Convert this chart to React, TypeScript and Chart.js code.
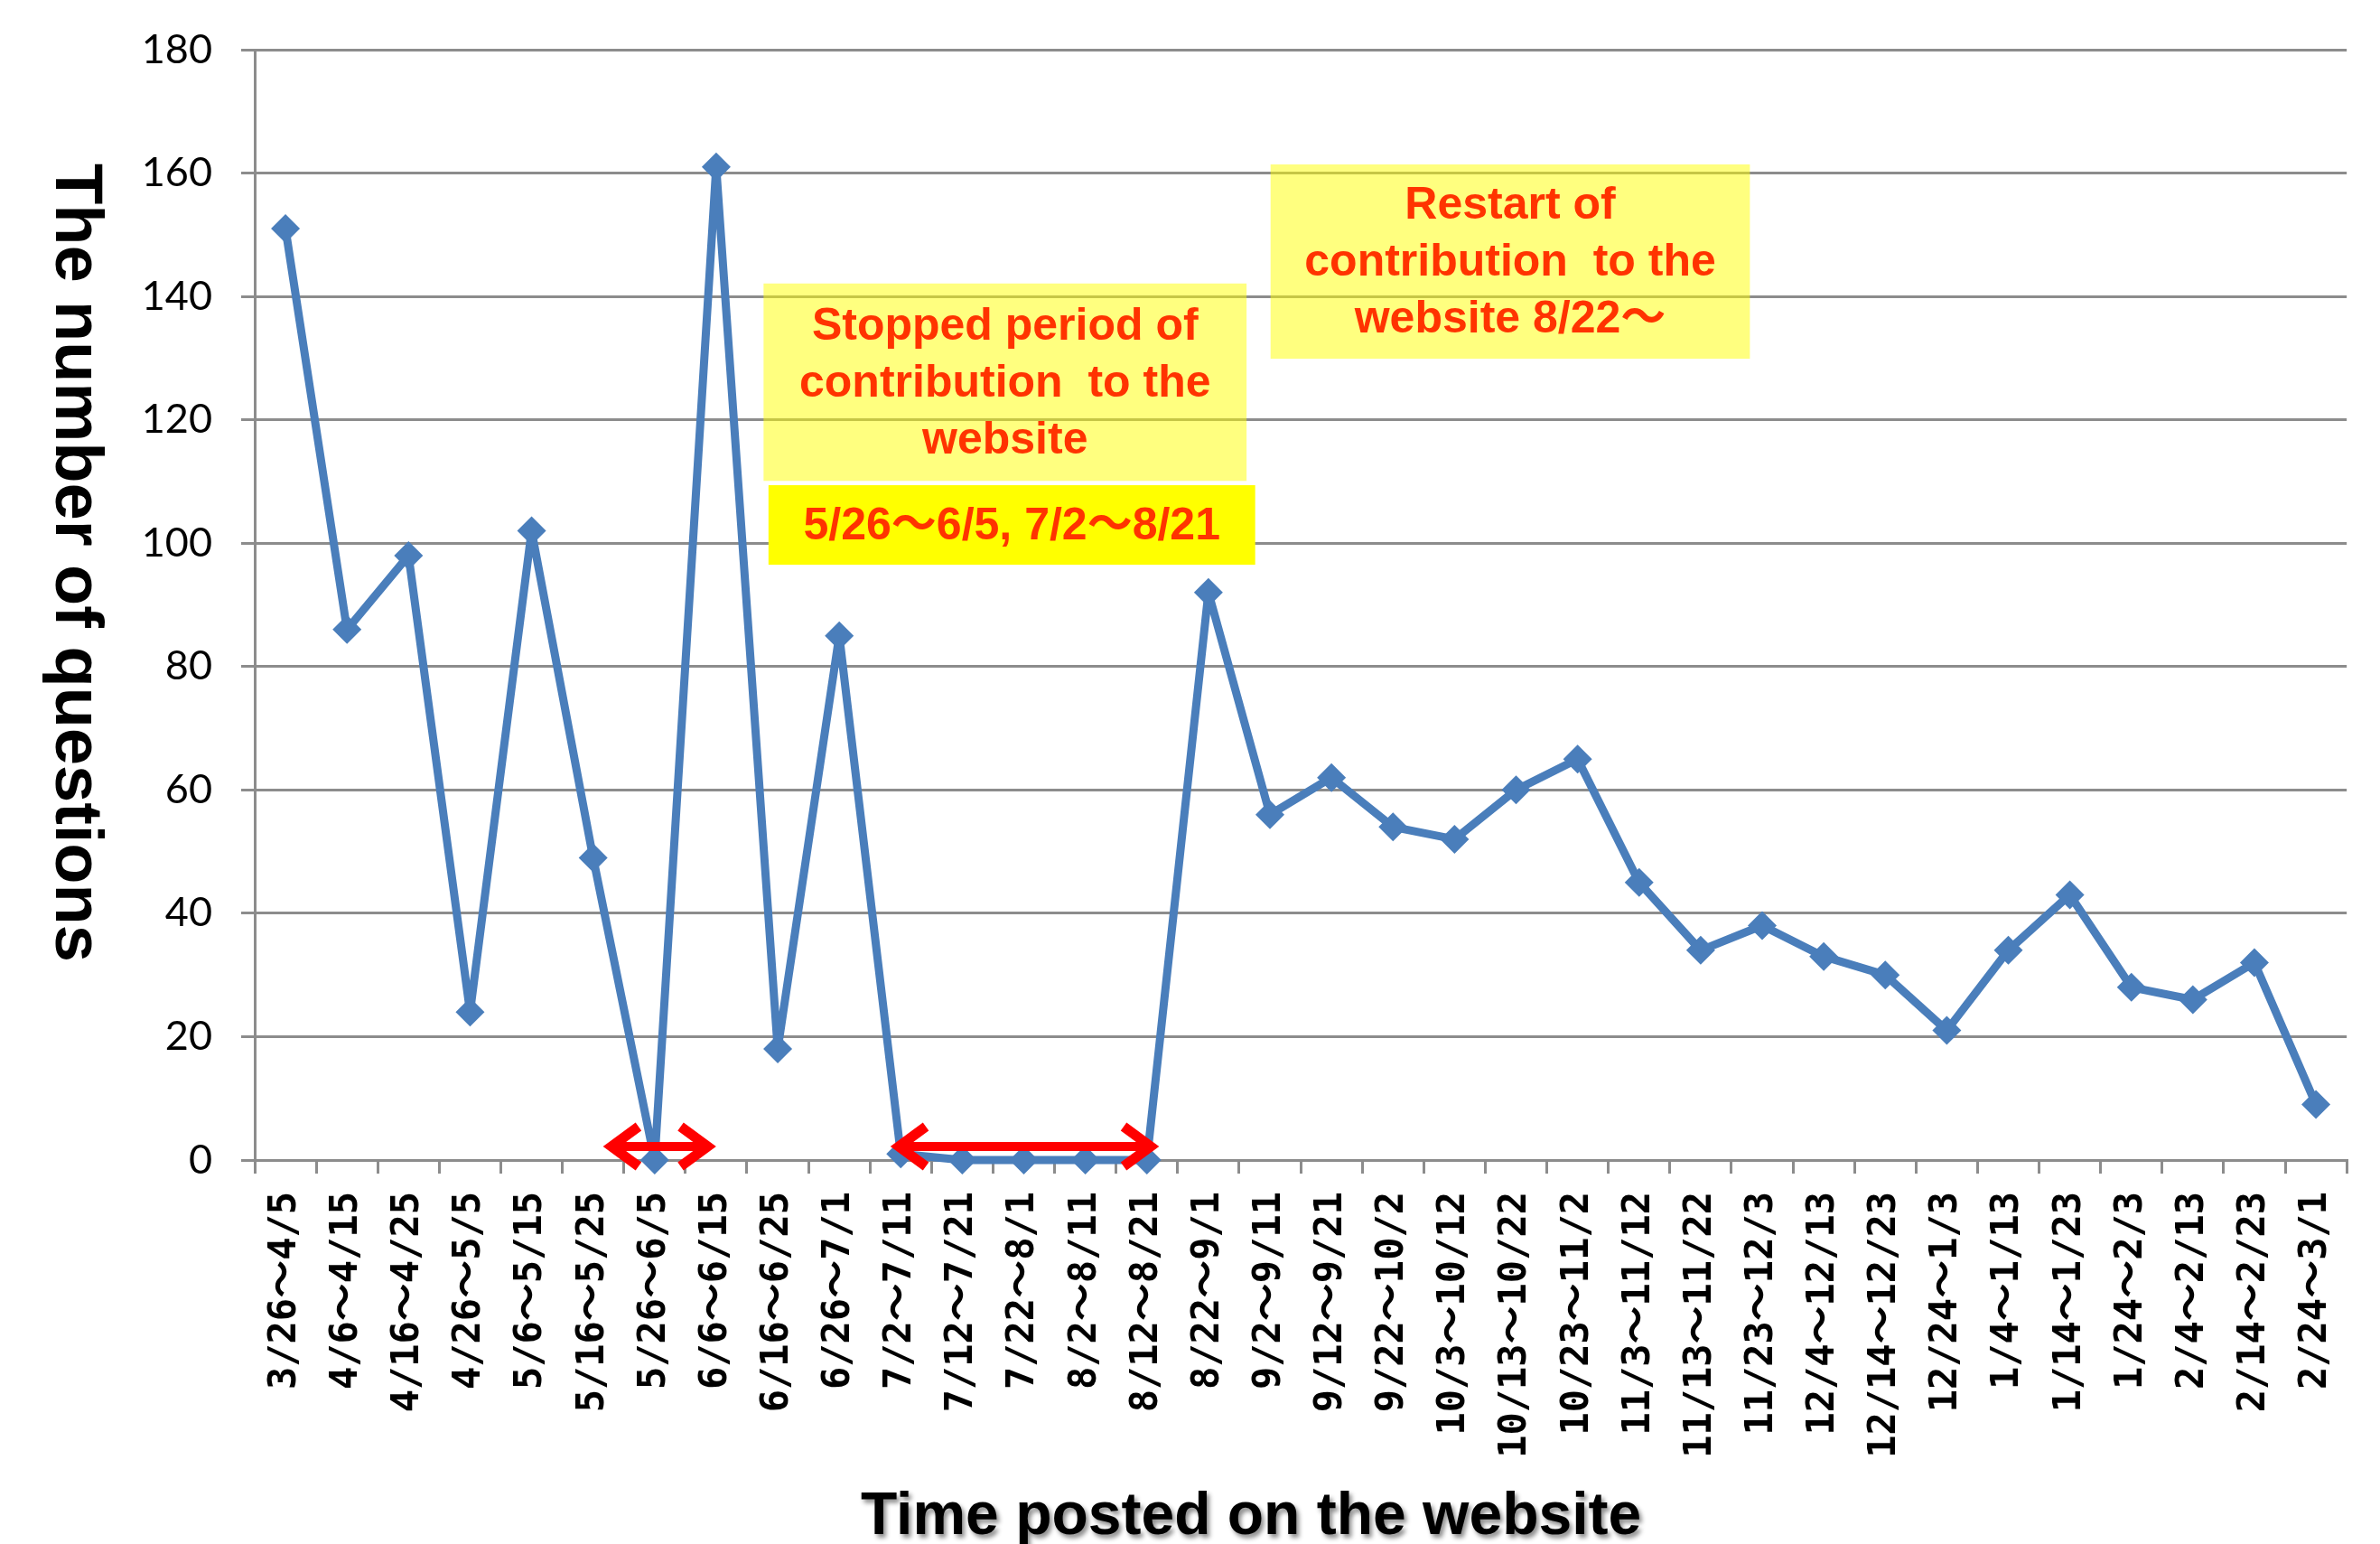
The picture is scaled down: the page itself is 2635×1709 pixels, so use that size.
import React, { useEffect, useRef } from "react";
import { Chart, registerables } from "chart.js";

Chart.register(...registerables);

// ---------- data ----------
const CATEGORIES = [
  "3/26～4/5", "4/6～4/15", "4/16～4/25", "4/26～5/5", "5/6～5/15", "5/16～5/25",
  "5/26～6/5", "6/6～6/15", "6/16～6/25", "6/26～7/1", "7/2～7/11", "7/12～7/21",
  "7/22～8/1", "8/2～8/11", "8/12～8/21", "8/22～9/1", "9/2～9/11", "9/12～9/21",
  "9/22～10/2", "10/3～10/12", "10/13～10/22", "10/23～11/2", "11/3～11/12",
  "11/13～11/22", "11/23～12/3", "12/4～12/13", "12/14～12/23", "12/24～1/3",
  "1/4～1/13", "1/14～1/23", "1/24～2/3", "2/4～2/13", "2/14～2/23", "2/24～3/1",
];

const QUESTIONS = [
  151, 86, 98, 24, 102, 49, 0, 161, 18, 85, 1, 0, 0, 0, 0, 92, 56, 62, 54, 52, 60,
  65, 45, 34, 38, 33, 30, 21, 34, 43, 28, 26, 32, 9,
];

const Y_MIN = 0;
const Y_MAX = 180;
const Y_STEP = 20;

const Y_TITLE = "The number of questions";
const X_TITLE = "Time posted on the website";

// annotations (in data units: category index / value)
const STOP_TEXT = ["Stopped period of", "contribution  to the", "website"];
const STOP_BOX_X = [7.77, 15.62];
const STOP_BOX_Y = [110.1, 142.1];

const PERIOD_TEXT = ["5/26～6/5, 7/2～8/21"];
const PERIOD_BOX_X = [7.85, 15.76];
const PERIOD_BOX_Y = [96.5, 109.4];

const RESTART_TEXT = ["Restart of", "contribution  to the", "website 8/22～"];
const RESTART_BOX_X = [16.01, 23.8];
const RESTART_BOX_Y = [129.9, 161.4];

const ARROW_1_X = [5.18, 6.98];
const ARROW_2_X = [9.85, 14.18];
const ARROW_Y = 2.2;

// ---------- styles ----------
const LINE_COLOR = "#4A7EBB";
const GRID_COLOR = "#8C8C8C";
const TEXT_RED = "#FF3300";
const ARROW_RED = "#FF0000";

const annotationPlugin = {
  id: "annotationsCustom",
  afterDatasetsDraw(chart: any) {
    const { ctx } = chart;
    const xs = chart.scales.x;
    const ys = chart.scales.y;
    ctx.save();

    const box = (bx: number[], by: number[], fill: string, lines: string[]) => {
      const left = xs.getPixelForValue(bx[0]);
      const right = xs.getPixelForValue(bx[1]);
      const top = ys.getPixelForValue(by[1]);
      const bottom = ys.getPixelForValue(by[0]);
      ctx.fillStyle = fill;
      ctx.fillRect(left, top, right - left, bottom - top);
      ctx.fillStyle = TEXT_RED;
      ctx.font = "bold 50px 'Liberation Sans', 'Noto Sans CJK JP', sans-serif";
      ctx.textAlign = "center";
      ctx.textBaseline = "middle";
      const cx = (left + right) / 2;
      const cy = (top + bottom) / 2;
      const lh = 63;
      lines.forEach((t, i) => {
        ctx.fillText(t, cx, cy + (i - (lines.length - 1) / 2) * lh + 2);
      });
    };

    box(STOP_BOX_X, STOP_BOX_Y, "rgba(255,255,0,0.5)", STOP_TEXT);
    box(PERIOD_BOX_X, PERIOD_BOX_Y, "#FFFF00", PERIOD_TEXT);
    box(RESTART_BOX_X, RESTART_BOX_Y, "rgba(255,255,0,0.5)", RESTART_TEXT);

    const arrow = (ax: number[], av: number) => {
      const a = xs.getPixelForValue(ax[0]);
      const b = xs.getPixelForValue(ax[1]);
      const py = ys.getPixelForValue(av);
      ctx.strokeStyle = ARROW_RED;
      ctx.lineCap = "butt";
      ctx.lineJoin = "miter";
      ctx.lineWidth = 10;
      ctx.beginPath();
      ctx.moveTo(a + 8, py);
      ctx.lineTo(b - 8, py);
      ctx.stroke();
      ctx.lineWidth = 11;
      ctx.beginPath();
      ctx.moveTo(a + 38, py - 22);
      ctx.lineTo(a + 8, py);
      ctx.lineTo(a + 38, py + 22);
      ctx.stroke();
      ctx.beginPath();
      ctx.moveTo(b - 38, py - 22);
      ctx.lineTo(b - 8, py);
      ctx.lineTo(b - 38, py + 22);
      ctx.stroke();
    };
    arrow(ARROW_1_X, ARROW_Y);
    arrow(ARROW_2_X, ARROW_Y);

    ctx.restore();
  },
  afterDraw(chart: any) {
    const { ctx, chartArea } = chart;
    ctx.save();
    ctx.fillStyle = "#000";
    // y title, reading top to bottom
    ctx.font = "bold 74px 'Liberation Sans', Arial, sans-serif";
    ctx.save();
    ctx.translate(62, chartArea.top + 126);
    ctx.rotate(Math.PI / 2);
    ctx.textAlign = "left";
    ctx.textBaseline = "alphabetic";
    ctx.fillText(Y_TITLE, 0, 0);
    ctx.restore();
    // x title with soft shadow
    ctx.font = "bold 66px 'Liberation Sans', Arial, sans-serif";
    ctx.textAlign = "center";
    ctx.textBaseline = "alphabetic";
    ctx.shadowColor = "rgba(0,0,0,0.45)";
    ctx.shadowOffsetX = 3;
    ctx.shadowOffsetY = 4;
    ctx.shadowBlur = 5;
    ctx.fillText(X_TITLE, (chartArea.left + chartArea.right) / 2 - 55, chartArea.bottom + 414);
    ctx.restore();
  },
};

export default function App() {
  const canvasRef = useRef<HTMLCanvasElement | null>(null);

  useEffect(() => {
    if (!canvasRef.current) return;
    const chart = new Chart(canvasRef.current, {
      type: "line",
      data: {
        labels: CATEGORIES,
        datasets: [
          {
            data: QUESTIONS,
            borderColor: LINE_COLOR,
            backgroundColor: LINE_COLOR,
            borderWidth: 9,
            borderJoinStyle: "round",
            tension: 0,
            pointStyle: "rectRot",
            pointRadius: 16,
            pointHoverRadius: 16,
            pointBackgroundColor: LINE_COLOR,
            pointBorderWidth: 0,
            clip: false as any,
          },
        ],
      },
      options: {
        animation: false,
        responsive: true,
        maintainAspectRatio: false,
        events: [],
        layout: { padding: { top: 55, right: 35, left: 0, bottom: 0 } },
        plugins: {
          legend: { display: false },
          tooltip: { enabled: false },
          title: { display: false },
        },
        scales: {
          x: {
            type: "category",
            offset: true,
            afterFit: (s: any) => {
              s.height = 425;
            },
            grid: {
              offset: true,
              drawOnChartArea: false,
              drawTicks: true,
              tickLength: 15,
              color: GRID_COLOR,
              lineWidth: 3,
            },
            border: { display: true, color: GRID_COLOR, width: 3 },
            ticks: {
              autoSkip: false,
              minRotation: 90,
              maxRotation: 90,
              padding: 20,
              color: "#000",
              font: {
                family: "'DejaVu Sans Mono', 'Noto Sans CJK JP', monospace",
                size: 42,
                weight: "bold",
              },
            },
          },
          y: {
            min: Y_MIN,
            max: Y_MAX,
            afterFit: (s: any) => {
              s.width = 282;
              s.paddingTop = 0;
              s.paddingBottom = 0;
            },
            grid: {
              color: GRID_COLOR,
              lineWidth: 3,
              drawTicks: true,
              tickLength: 15,
            },
            border: { display: true, color: GRID_COLOR, width: 3 },
            ticks: {
              stepSize: Y_STEP,
              padding: 32,
              color: "#000",
              font: { family: "Lato, 'Open Sans', sans-serif", size: 45 },
            },
          },
        },
      },
      plugins: [annotationPlugin],
    });
    return () => chart.destroy();
  }, []);

  return (
    <div
      style={{
        position: "absolute",
        left: 0,
        top: 0,
        width: "2635px",
        height: "1709px",
        background: "#fff",
      }}
    >
      <canvas ref={canvasRef} />
    </div>
  );
}
